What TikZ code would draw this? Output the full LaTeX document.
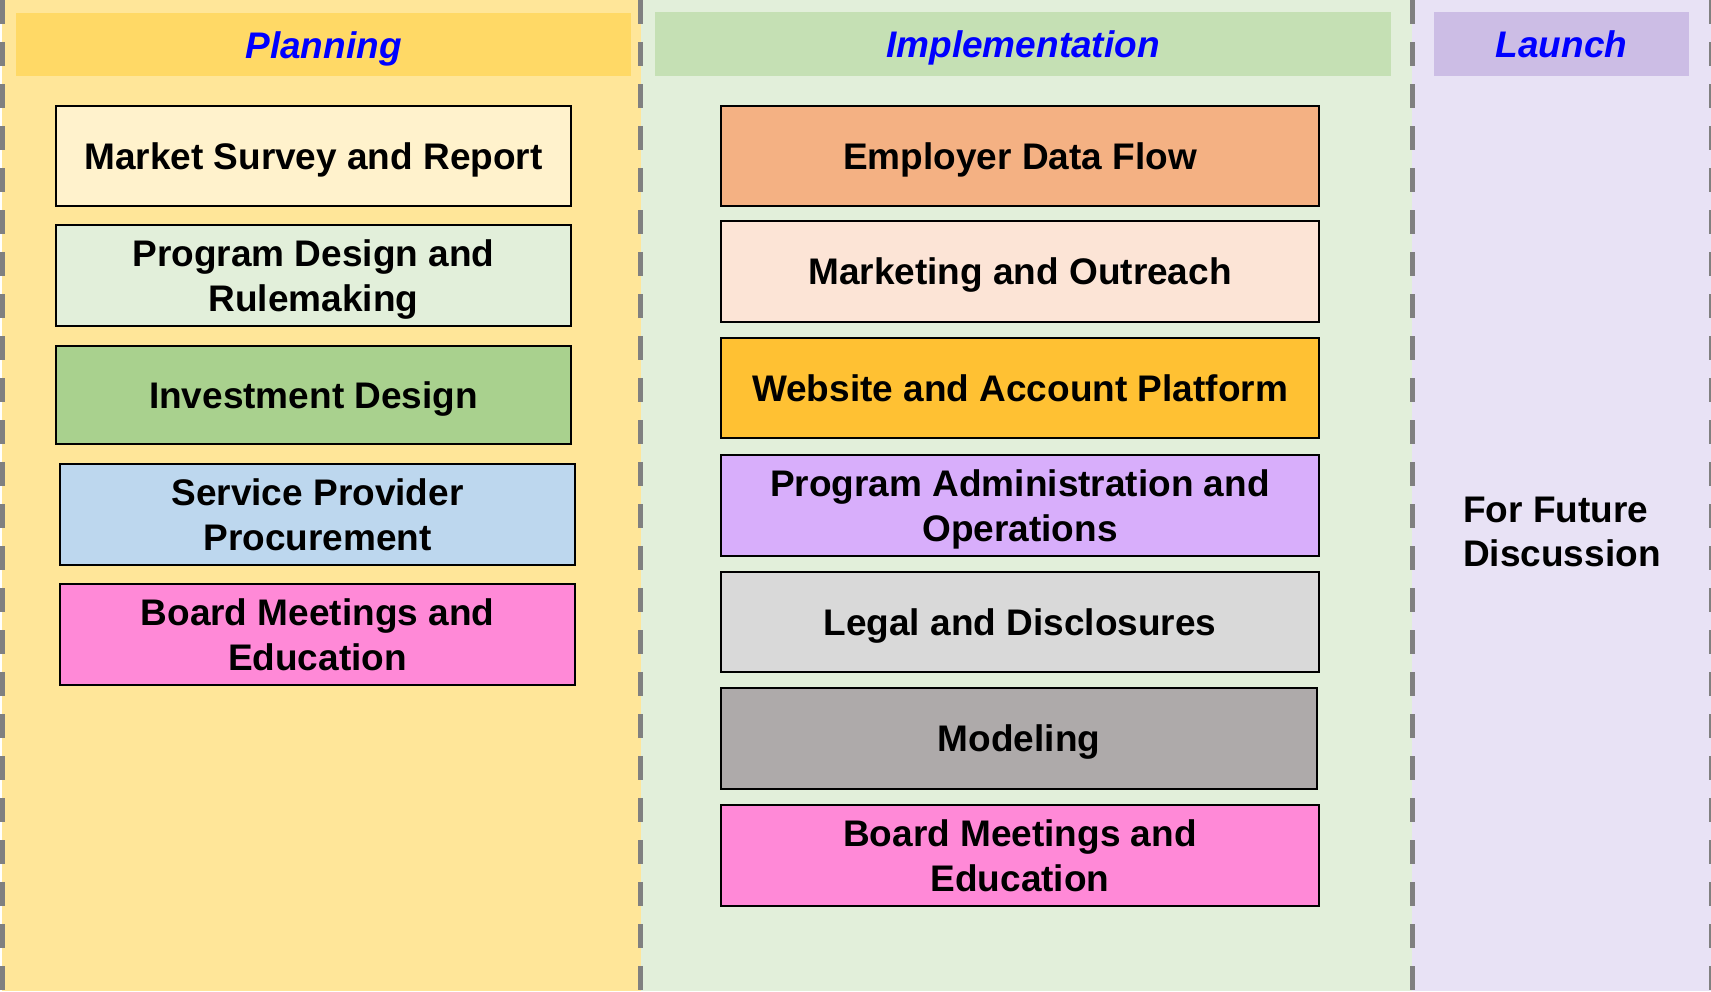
\documentclass[tikz,border=0pt]{standalone}
\usepackage{fontspec}
\setmainfont{Liberation Sans}
\begin{document}
\definecolor{planbg}{HTML}{FFE699}
\definecolor{planhead}{HTML}{FFD966}
\definecolor{implbg}{HTML}{E2EFDA}
\definecolor{implhead}{HTML}{C5E0B4}
\definecolor{launchbg}{HTML}{E8E2F5}
\definecolor{launchhead}{HTML}{CCBDE5}
\definecolor{sepgray}{HTML}{808080}
\definecolor{cream}{HTML}{FFF2CC}
\definecolor{mint}{HTML}{E2EFDA}
\definecolor{leaf}{HTML}{A9D18E}
\definecolor{sky}{HTML}{BDD7EE}
\definecolor{rose}{HTML}{FF89D7}
\definecolor{salmon}{HTML}{F4B183}
\definecolor{peach}{HTML}{FCE4D6}
\definecolor{gold}{HTML}{FFC133}
\definecolor{lilac}{HTML}{D8AEFB}
\definecolor{silver}{HTML}{D9D9D9}
\definecolor{stone}{HTML}{AEAAAA}
\begin{tikzpicture}[x=1pt,y=-1pt,
  task/.style={draw=black, line width=2.5pt, rectangle, inner sep=0pt,
    align=center, text depth=0pt, font=\fontsize{37}{45}\selectfont\bfseries, text=black},
  phase/.style={rectangle, inner sep=0pt, text=blue, text height=27pt, text depth=0pt,
    font=\fontsize{37}{45}\selectfont\bfseries\itshape},
  separator/.style={draw=sepgray, line width=5pt, dash pattern=on 24pt off 18pt}]
\useasboundingbox (0,0) rectangle (1711,991);

% column backgrounds
\fill[planbg] (2,0) rectangle (641,991);
\fill[implbg] (641,0) rectangle (1412,991);
\fill[launchbg] (1412,0) rectangle (1711,991);

% phase headers
\node[phase, fill=planhead, minimum width=615pt, minimum height=63pt] (planning) at (323.5,44.5) {Planning};
\node[phase, fill=implhead, minimum width=736pt, minimum height=64pt] (implementation) at (1023,43.5) {Implementation};
\node[phase, fill=launchhead, minimum width=255pt, minimum height=64pt] (launch) at (1561.5,43.5) {Launch};

% planning tasks
\node[task, fill=cream, minimum width=515pt, minimum height=100pt] (survey) at (313.5,156) {Market Survey and Report};
\node[task, fill=mint, minimum width=515pt, minimum height=101pt] (design) at (313.5,275.5) {Program Design and\\Rulemaking};
\node[task, fill=leaf, minimum width=515pt, minimum height=98pt] (invest) at (313.5,395) {Investment Design};
\node[task, fill=sky, minimum width=515pt, minimum height=101pt] (procure) at (317.5,514.5) {Service Provider\\Procurement};
\node[task, fill=rose, minimum width=515pt, minimum height=101pt] (boardA) at (317.5,634.5) {Board Meetings and\\Education};

% implementation tasks
\node[task, fill=salmon, minimum width=598pt, minimum height=100pt] (employer) at (1020,156) {Employer Data Flow};
\node[task, fill=peach, minimum width=598pt, minimum height=101pt] (outreach) at (1020,271.5) {Marketing and Outreach};
\node[task, fill=gold, minimum width=598pt, minimum height=100pt] (website) at (1020,388) {Website and Account Platform};
\node[task, fill=lilac, minimum width=598pt, minimum height=101pt] (admin) at (1020,505.5) {Program Administration and\\Operations};
\node[task, fill=silver, minimum width=598pt, minimum height=100pt] (legal) at (1020,622) {Legal and Disclosures};
\node[task, fill=stone, minimum width=596pt, minimum height=101pt] (modeling) at (1019,738.5) {Modeling};
\node[task, fill=rose, minimum width=598pt, minimum height=101pt] (boardB) at (1020,855.5) {Board Meetings and\\Education};

% launch note
\node[font=\fontsize{37}{44}\selectfont\bfseries, align=left, inner sep=0pt, anchor=north west] (future) at (1463,497) {For Future\\Discussion};

% dashed phase separators
\draw[separator] (2.5,0) -- (2.5,991);
\draw[separator] (640.5,0) -- (640.5,991);
\draw[separator] (1412,0) -- (1412,991);
\draw[separator] (1711,0) -- (1711,991);
\end{tikzpicture}
\end{document}
